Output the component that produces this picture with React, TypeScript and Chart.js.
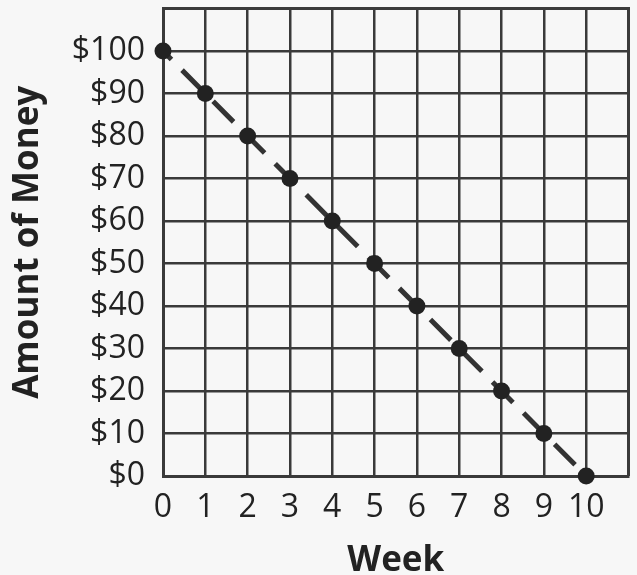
import React, { useEffect, useRef } from "react";
import { Chart, registerables } from "chart.js";

Chart.register(...registerables);

const weeks: number[] = [0, 1, 2, 3, 4, 5, 6, 7, 8, 9, 10];
const amounts: number[] = [100, 90, 80, 70, 60, 50, 40, 30, 20, 10, 0];
const xAxisTitle = "Week";
const yAxisTitle = "Amount of Money";
const xMax = 11;
const yMax = 110;

export default function App() {
  const ref = useRef<HTMLCanvasElement | null>(null);

  useEffect(() => {
    if (!ref.current) return;
    const ink = "#222222";
    const grid = "#3a3a3a";
    const framePlugin = {
      id: "frame",
      beforeDatasetsDraw(c: any) {
        const { ctx, chartArea } = c;
        ctx.save();
        ctx.strokeStyle = grid;
        ctx.lineWidth = 3;
        ctx.beginPath();
        ctx.moveTo(chartArea.left, chartArea.top);
        ctx.lineTo(chartArea.right, chartArea.top);
        ctx.lineTo(chartArea.right, chartArea.bottom);
        ctx.stroke();
        ctx.restore();
      },
    };
    const chart = new Chart(ref.current, {
      type: "line",
      data: {
        datasets: [
          {
            data: weeks.map((w, i) => ({ x: w, y: amounts[i] })),
            borderColor: "#333333",
            borderWidth: 5,
            borderDash: [29, 15],
            borderDashOffset: 17,
            pointRadius: 8.5,
            pointBackgroundColor: "#222222",
            pointBorderWidth: 0,
            pointBorderColor: "#222222",
            fill: false,
            tension: 0,
            clip: false as any,
          },
        ],
      },
      options: {
        responsive: false,
        animation: false,
        events: [],
        layout: { padding: { top: 8, right: 8, left: 0, bottom: 0 } },
        plugins: { legend: { display: false }, tooltip: { enabled: false } },
        scales: {
          x: {
            type: "linear",
            min: 0,
            max: xMax,
            afterFit: (s: any) => {
              s.height = 99;
              s.paddingLeft = 0;
              s.paddingRight = 0;
              s.paddingTop = 0;
              s.paddingBottom = 0;
            },
            grid: { color: grid, lineWidth: 2.5, drawTicks: false },
            border: { color: grid, width: 3 },
            ticks: {
              stepSize: 1,
              maxTicksLimit: 20,
              padding: 13,
              color: ink,
              font: { family: "Open Sans", size: 32, weight: "500" },
              callback: (v: any) => (Number(v) <= 10 ? String(v) : ""),
              maxRotation: 0,
              autoSkip: false,
            },
            title: {
              display: true,
              text: xAxisTitle,
              color: ink,
              font: { family: "Open Sans", size: 35, weight: "bold", lineHeight: 0.8 },
              padding: { top: 0, bottom: 0 },
            },
          },
          y: {
            type: "linear",
            min: 0,
            max: yMax,
            afterFit: (s: any) => {
              s.width = 163;
              s.paddingLeft = 0;
              s.paddingRight = 0;
              s.paddingTop = 0;
              s.paddingBottom = 0;
            },
            grid: { color: grid, lineWidth: 2.5, drawTicks: false },
            border: { color: grid, width: 3 },
            ticks: {
              stepSize: 10,
              maxTicksLimit: 20,
              padding: 18,
              color: ink,
              font: { family: "Open Sans", size: 32, weight: "500" },
              callback: (v: any) => (Number(v) <= 100 ? "$" + v : ""),
              autoSkip: false,
            },
            title: {
              display: true,
              text: yAxisTitle,
              color: ink,
              font: { family: "Open Sans", size: 35, weight: "bold", lineHeight: 1.0 },
              padding: { top: 11, bottom: 0 },
            },
          },
        },
      },
      plugins: [framePlugin],
    });
    return () => chart.destroy();
  }, []);

  return (
    <div
      style={{
        position: "fixed",
        left: 0,
        top: 0,
        width: 637,
        height: 575,
        background: "#f7f7f7",
      }}
    >
      <canvas ref={ref} width={637} height={575} style={{ display: "block" }} />
    </div>
  );
}
